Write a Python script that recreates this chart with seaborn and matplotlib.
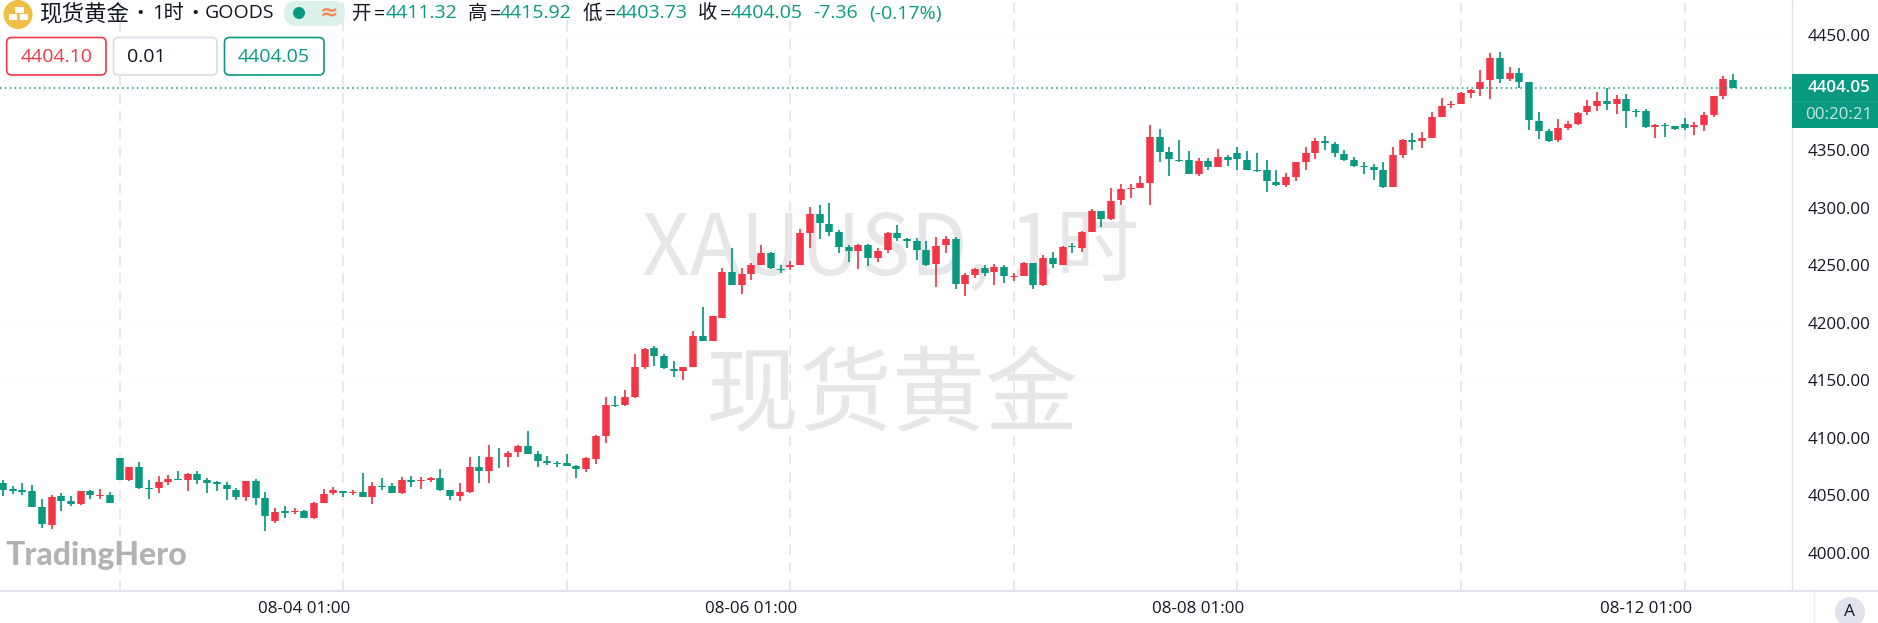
import matplotlib
matplotlib.use("Agg")
import matplotlib.pyplot as plt
from matplotlib.patches import Circle, FancyBboxPatch, Rectangle
import pandas as pd
import seaborn as sns

opens = [4060.5,4055.3,4054.8,4053.6,4040.3,4024.7,4049.3,4045.5,4042.9,4053.6,
4049.3,4050.7,4082.6,4063.5,4074.8,4056.5,4056.5,4062.0,4064.6,4063.7,
4068.7,4063.7,4061.4,4059.1,4055.1,4049.0,4062.3,4047.5,4028.1,4036.2,
4035.4,4036.8,4030.4,4043.5,4051.9,4053.6,4052.5,4053.3,4049.0,4058.2,
4058.2,4052.2,4063.7,4062.6,4063.2,4065.2,4054.8,4049.6,4053.3,4074.4,
4071.2,4083.7,4083.7,4087.4,4092.6,4085.7,4079.9,4078.4,4077.9,4075.3,
4072.9,4081.9,4101.6,4128.8,4128.2,4135.5,4161.3,4177.8,4170.8,4160.1,
4158.4,4161.3,4188.8,4183.9,4204.4,4244.1,4233.2,4242.7,4250.0,4260.4,
4247.0,4248.2,4250.2,4278.3,4294.6,4285.9,4278.6,4265.9,4262.4,4267.3,
4256.6,4263.3,4278.3,4272.8,4270.8,4263.6,4250.8,4267.3,4272.8,4234.0,
4241.8,4247.3,4243.9,4248.5,4239.8,4240.7,4251.7,4232.9,4256.6,4250.5,
4267.0,4265.3,4278.9,4297.2,4290.2,4306.7,4316.0,4317.4,4321.8,4361.4,
4348.4,4341.5,4341.5,4329.6,4340.3,4335.7,4343.8,4347.3,4341.7,4332.8,
4332.5,4322.6,4320.0,4327.0,4340.0,4347.8,4358.3,4355.6,4346.7,4341.2,
4336.2,4335.1,4332.5,4318.3,4345.8,4358.5,4357.7,4360.9,4379.1,4389.2,
4390.4,4399.7,4402.8,4410.7,4430.1,4411.5,4417.3,4409.2,4375.3,4366.7,
4358.8,4369.5,4372.7,4383.1,4388.4,4392.7,4389.8,4394.4,4384.3,4383.7,
4370.1,4371.9,4371.0,4372.4,4370.4,4371.9,4380.8,4396.8,4411.32]

closes = [4054.7,4053.6,4053.0,4040.3,4025.0,4049.0,4045.2,4042.6,4053.6,4050.7,
4050.7,4043.5,4063.5,4074.8,4056.5,4055.3,4062.0,4064.6,4063.7,4068.7,
4063.7,4061.1,4059.7,4055.3,4049.0,4062.3,4047.5,4032.2,4035.7,4035.1,
4036.8,4030.4,4043.2,4051.6,4055.1,4052.5,4053.3,4049.0,4058.2,4057.1,
4052.2,4063.5,4062.0,4063.7,4064.9,4054.8,4049.6,4053.3,4074.5,4070.9,
4083.7,4083.1,4086.8,4093.2,4086.0,4079.6,4078.4,4077.3,4075.6,4072.6,
4082.2,4101.3,4128.8,4128.0,4135.2,4161.5,4177.5,4171.1,4160.4,4158.4,
4161.5,4188.5,4183.9,4206.1,4244.1,4232.9,4242.4,4250.5,4261.0,4247.3,
4245.9,4250.0,4278.0,4294.6,4287.0,4278.9,4265.9,4262.7,4267.3,4256.6,
4262.7,4278.0,4273.7,4271.4,4263.6,4250.2,4267.0,4272.8,4234.0,4241.6,
4247.0,4243.6,4248.8,4241.0,4241.0,4252.3,4232.9,4256.6,4250.8,4266.2,
4265.9,4278.6,4297.5,4290.5,4306.1,4316.3,4317.1,4321.5,4361.7,4348.7,
4342.0,4340.6,4329.6,4340.3,4335.7,4344.0,4341.5,4342.3,4333.1,4331.9,
4323.0,4320.0,4326.7,4339.7,4347.5,4358.3,4355.9,4347.3,4341.5,4336.2,
4335.4,4333.1,4318.3,4345.8,4358.5,4357.4,4360.6,4378.5,4388.4,4390.4,
4400.0,4402.6,4409.5,4430.1,4411.5,4417.3,4409.2,4375.9,4367.0,4358.3,
4369.5,4372.7,4382.6,4388.1,4392.7,4390.1,4394.4,4384.3,4383.2,4369.8,
4371.9,4371.0,4368.4,4369.5,4371.6,4380.6,4396.8,4411.5,4404.05]

highs = [4063.4,4058.2,4061.1,4059.1,4046.7,4050.1,4052.5,4049.8,4054.2,4054.8,
4055.3,4052.7,4082.6,4074.8,4078.8,4063.2,4066.6,4067.8,4071.3,4069.8,
4071.3,4064.9,4062.9,4061.7,4056.8,4062.6,4064.0,4053.3,4038.8,4040.6,
4038.8,4037.1,4044.6,4055.3,4057.7,4054.2,4054.8,4069.2,4061.4,4064.9,
4061.1,4065.8,4067.2,4065.8,4066.4,4072.7,4054.8,4060.6,4083.7,4084.2,
4093.5,4091.5,4088.3,4093.5,4106.0,4088.3,4084.2,4080.2,4085.7,4076.4,
4083.1,4102.2,4135.2,4136.3,4141.3,4172.8,4178.1,4179.5,4172.6,4166.8,
4161.5,4192.8,4213.7,4206.1,4247.3,4265.0,4247.3,4252.3,4267.6,4261.8,
4250.2,4254.0,4281.8,4300.3,4302.7,4304.4,4280.7,4267.3,4268.2,4268.5,
4265.3,4278.6,4284.7,4273.7,4273.4,4270.8,4274.3,4275.4,4274.3,4243.0,
4247.9,4250.0,4251.1,4250.0,4243.6,4253.1,4252.3,4259.2,4261.5,4266.8,
4269.4,4280.1,4298.6,4297.5,4316.9,4320.6,4320.6,4327.9,4371.9,4368.1,
4353.0,4358.8,4349.6,4343.2,4343.2,4350.7,4345.5,4352.5,4349.3,4347.3,
4341.2,4332.8,4329.9,4340.0,4352.5,4360.3,4362.3,4356.8,4350.1,4344.4,
4339.7,4337.7,4340.0,4352.5,4360.0,4365.2,4365.8,4383.4,4395.6,4392.7,
4400.8,4403.1,4419.6,4434.1,4435.6,4421.9,4421.1,4409.2,4382.9,4368.1,
4376.8,4375.6,4383.1,4393.6,4400.5,4404.3,4398.2,4399.1,4385.8,4385.5,
4372.4,4373.9,4371.3,4378.2,4374.8,4383.5,4397.4,4414.4,4415.92]

lows = [4049.8,4051.3,4050.4,4040.3,4021.5,4020.6,4036.5,4040.9,4041.5,4047.0,
4046.7,4043.2,4063.5,4062.9,4055.3,4047.0,4051.9,4059.1,4063.5,4053.9,
4060.3,4052.5,4054.2,4046.4,4046.1,4044.9,4042.0,4018.9,4026.4,4030.4,
4034.2,4030.2,4029.9,4043.2,4050.1,4049.0,4050.1,4049.0,4042.3,4054.8,
4051.9,4051.3,4057.1,4055.6,4061.4,4054.2,4046.1,4045.5,4052.5,4061.1,
4061.1,4074.1,4074.4,4083.1,4086.0,4075.0,4076.1,4074.4,4075.6,4065.4,
4070.6,4077.6,4095.5,4127.1,4128.0,4134.9,4160.1,4162.4,4159.5,4153.2,
4150.3,4161.3,4183.9,4183.9,4203.8,4232.9,4225.0,4237.2,4250.0,4247.0,
4243.0,4245.9,4250.0,4264.7,4273.1,4275.4,4261.0,4253.1,4247.0,4249.7,
4252.9,4260.7,4271.4,4265.0,4254.6,4249.4,4231.1,4260.4,4229.7,4223.6,
4238.7,4241.0,4232.9,4234.6,4236.1,4240.7,4229.7,4232.3,4247.3,4250.2,
4261.0,4261.8,4278.6,4283.3,4289.6,4302.7,4308.2,4317.4,4302.1,4339.7,
4327.8,4340.0,4329.6,4327.8,4332.5,4335.7,4336.5,4332.8,4332.5,4331.3,
4313.7,4319.2,4318.0,4323.5,4332.5,4342.3,4350.1,4344.4,4340.9,4335.4,
4329.3,4324.4,4316.8,4318.3,4343.5,4350.1,4352.2,4360.3,4379.1,4386.3,
4389.8,4395.0,4397.1,4394.2,4408.6,4410.1,4404.3,4367.5,4360.0,4357.1,
4357.4,4367.5,4371.6,4380.8,4384.0,4384.9,4381.7,4369.5,4379.1,4369.5,
4360.6,4361.4,4367.5,4367.5,4362.9,4367.0,4378.8,4394.8,4403.73]

price_ticks = [4000, 4050, 4100, 4150, 4200, 4250, 4300, 4350, 4450]
date_ticks = {31: "08-04 01:00", 77: "08-06 01:00", 123: "08-08 01:00", 169: "08-12 01:00"}
session_starts = [12, 35, 58, 81, 104, 127, 150, 173]
last_price = 4404.05

GREEN = "#089981"
RED = "#F23645"
LINE = "#E0E3EB"
INK = "#131722"
FONT = ["Open Sans", "Noto Sans CJK SC", "DejaVu Sans"]
CJK = ["Noto Sans CJK SC", "DejaVu Sans"]

sns.set_style("white")
plt.rcParams["font.family"] = FONT

W, H = 1878, 623
fig = plt.figure(figsize=(W / 100, H / 100), dpi=100, facecolor="white")
ax = fig.add_axes([0, (H - 591) / H, 1792 / W, 591 / H], facecolor="white")

wick_rows, body_rows = [], []
for i, (o, c, hi, lo) in enumerate(zip(opens, closes, highs, lows)):
    d = "up" if c >= o else "down"
    wick_rows += [(i, lo, d), (i, hi, d)]
    body_rows += [(i, min(o, c), d), (i, max(o, c), d)]
wicks = pd.DataFrame(wick_rows, columns=["i", "p", "d"])
bodies = pd.DataFrame(body_rows, columns=["i", "p", "d"])
palette = {"up": RED, "down": GREEN}

for x in session_starts:
    ax.axvline(x, color="#E4E5EE", lw=1.3, dashes=(6, 4), zorder=1)
for y in price_ticks:
    ax.axhline(y, color="#FCFCFD", lw=1, zorder=0.5)

sns.lineplot(data=wicks, x="i", y="p", hue="d", units="i", estimator=None, palette=palette,
             lw=1.25, legend=False, ax=ax, solid_capstyle="butt", zorder=3, sort=False)
sns.lineplot(data=bodies, x="i", y="p", hue="d", units="i", estimator=None, palette=palette,
             lw=5.4, legend=False, ax=ax, solid_capstyle="butt", zorder=4, sort=False)
ax.axhline(last_price, color=GREEN, lw=1.1, dashes=(1, 2.2), zorder=5)

ax.set_xlim(-0.31, 184.05)
ax.set_ylim(3967.0, 4480.5)
ax.set_xlabel("")
ax.set_ylabel("")
ax.yaxis.tick_right()
ax.set_yticks(price_ticks, [f"{v:.2f}" for v in price_ticks])
ax.set_xticks(list(date_ticks), list(date_ticks.values()))
ax.tick_params(axis="y", length=0, pad=11.5, labelsize=12.2, labelcolor=INK)
ax.tick_params(axis="x", length=0, pad=7, labelsize=12.2, labelcolor=INK)
sns.despine(ax=ax, left=True, bottom=True, right=True, top=True)

# overlay in figure pixels for chart furniture
ov = fig.add_axes([0, 0, 1, 1], facecolor="none")
ov.set_xlim(0, W)
ov.set_ylim(H, 0)
ov.axis("off")

# watermarks under candles are drawn on the main axes with low zorder
trans = ov.transData
ax.text(890, 251, "XAUUSD, 1时", transform=trans, ha="center", va="center",
        fontsize=60, color="#E6E6E9", zorder=0.8, family=CJK)
ax.text(892, 398, "现货黄金", transform=trans, ha="center", va="center",
        fontsize=67, color="#E6E6E9", zorder=0.8, family=CJK)
ov.text(6, 565, "TradingHero", ha="left", va="baseline", fontsize=23, color="#B2B2B2",
        family="Lato", weight="black")

# frame lines
ov.plot([0, W], [591, 591], color=LINE, lw=1.5)
ov.plot([1792, 1792], [0, 591], color=LINE, lw=1)
ov.plot([1814, 1814], [591, H], color="#EEEFF3", lw=1)
ov.add_patch(Circle((1850, 612), 15, fc="#E0E3EB", ec="none"))
ov.text(1850, 612, "A", ha="center", va="center", fontsize=12.5, color=INK)

# last price tag
ov.add_patch(Rectangle((1792, 74), 86, 54, fc=GREEN, ec="none", zorder=6))
ov.plot([1792, W], [101, 101], color="#1FA38D", lw=0.8, zorder=7)
ov.text(1870, 88, f"{last_price:.2f}", ha="right", va="center", fontsize=12.2, color="white",
        weight="semibold", zorder=8)
ov.text(1872, 115, "00:20:21", ha="right", va="center", fontsize=12.2, color="#C3E7E0", zorder=8)

# header
ov.add_patch(Circle((18, 14.5), 14.5, fc="#F0BD45", ec="none"))
for (bx, by, bw) in [(15, 7, 9), (9, 14, 8), (20, 14, 8)]:
    ov.add_patch(Rectangle((bx, by), bw, 5.5, fc="white", ec="none"))
ov.text(39, 13.5, "现货黄金", ha="left", va="center", fontsize=16.2, color=INK, family=CJK)
ov.text(140, 13.5, "•", ha="center", va="center", fontsize=14, color=INK)
ov.text(152, 13.5, "1时", ha="left", va="center", fontsize=14.5, color=INK)
ov.text(195, 13.5, "•", ha="center", va="center", fontsize=14, color=INK)
ov.text(205, 13.5, "GOODS", ha="left", va="center", fontsize=14, color=INK)
ov.add_patch(FancyBboxPatch((284, 1), 61, 25, boxstyle="round,pad=0,rounding_size=12.5",
                            fc="#DBF0EB", ec="none", zorder=2))
ov.add_patch(Circle((299, 13), 6, fc=GREEN, ec="none", zorder=3))
ov.text(329, 12.5, "≈", ha="center", va="center", fontsize=16, color="#F2875A", weight="bold",
        family="DejaVu Sans", zorder=3)

head = [(352, "开", INK), (374, "=", INK), (386, "4411.32", GREEN),
        (468, "高", INK), (490, "=", INK), (500, "4415.92", GREEN),
        (583, "低", INK), (605, "=", INK), (616, "4403.73", GREEN),
        (698, "收", INK), (720, "=", INK), (731, "4404.05", GREEN),
        (813, "-7.36", GREEN), (869, "(-0.17%)", GREEN)]
for x, s, col in head:
    ov.text(x, 13.5, s, ha="left", va="center", fontsize=14, color=col)

boxes = [(6.7, 99.3, RED, "4404.10", RED, 56.5, "center"),
         (113.5, 103.5, "#DADCE8", "0.01", INK, 127, "left"),
         (224.5, 99.5, GREEN, "4404.05", GREEN, 274, "center")]
for x, w, ec, s, col, tx, ha in boxes:
    ov.add_patch(FancyBboxPatch((x, 37.5), w, 37.5, boxstyle="round,pad=0,rounding_size=5",
                                fc="white", ec=ec, lw=1.2, zorder=6))
    ov.text(tx, 56.5, s, ha=ha, va="center", fontsize=14, color=col, zorder=7)

fig.savefig("out.png", dpi=100)
